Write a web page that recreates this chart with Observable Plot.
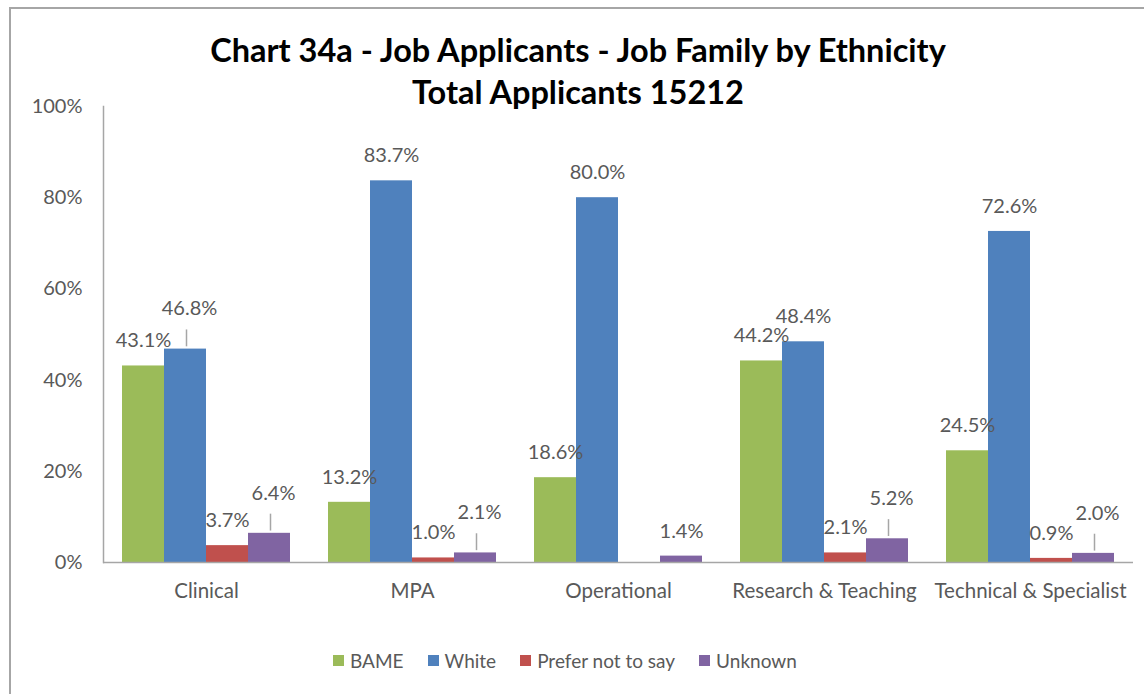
<!DOCTYPE html>
<html>
<head>
<meta charset="utf-8">
<script src="https://cdn.jsdelivr.net/npm/d3@7"></script>
<script src="https://cdn.jsdelivr.net/npm/@observablehq/plot@0.6"></script>
<style>
  html, body { margin: 0; padding: 0; background: #fff; }
  #wrap { position: relative; width: 1144px; height: 694px; overflow: hidden; font-family: Lato, "Open Sans", sans-serif; }
  #border { position: absolute; left: 9px; top: 7px; width: 1300px; height: 900px; border: 2px solid #a6a6a6; box-sizing: border-box; }
  #title { position: absolute; left: 0; top: 29px; width: 1156px; text-align: center; font-weight: bold; font-size: 32.5px; line-height: 42px; color: #000; }
  #chart { position: absolute; left: 0; top: 80px; }
  #legend { position: absolute; left: 333px; top: 649px; display: flex; align-items: center; font-size: 19px; color: #595959; }
  .item { display: flex; align-items: center; margin-right: 24px; }
  .sw { width: 11px; height: 11px; margin-right: 6px; }
</style>
</head>
<body>
<div id="wrap">
  <div id="border"></div>
  <div id="title">Chart 34a - Job Applicants - Job Family by Ethnicity<br>Total Applicants 15212</div>
  <div id="chart"></div>
  <div id="legend"></div>
</div>
<script>
const categories = ["Clinical", "MPA", "Operational", "Research & Teaching", "Technical & Specialist"];
const series = ["BAME", "White", "Prefer not to say", "Unknown"];
const bame = [43.1, 13.2, 18.6, 44.2, 24.5];
const white = [46.8, 83.7, 80.0, 48.4, 72.6];
const preferNot = [3.7, 1.0, null, 2.1, 0.9];
const unknown = [6.4, 2.1, 1.4, 5.2, 2.0];
const seriesColors = ["#9BBB59", "#4F81BD", "#C0504D", "#8064A2"];
const yTicks = [0, 20, 40, 60, 80, 100];

const valuesBySeries = [bame, white, preferNot, unknown];
const data = [];
categories.forEach((cat, i) => {
  let prev = null;
  series.forEach((s, j) => {
    const v = valuesBySeries[j][i];
    if (v != null) {
      // labels that would collide with the neighbour's label are lifted (Excel-style leader line)
      const lifted = prev != null && Math.abs(v - prev) < 4;
      data.push({cat, series: s, value: v, lifted});
      prev = v;
    }
  });
});
const normal = data.filter(d => !d.lifted);
const lifted = data.filter(d => d.lifted);

const chart = Plot.plot({
  width: 1144,
  height: 540,
  marginLeft: 103,
  marginRight: 11,
  marginTop: 26,
  marginBottom: 58,
  style: {fontFamily: "Lato, 'Open Sans', sans-serif", fontSize: "20px", color: "#595959", background: "transparent"},
  fx: {domain: categories, padding: 0, label: null},
  x: {domain: series, paddingInner: 0, paddingOuter: 0.4235, axis: null},
  y: {domain: [0, 100], label: null, axis: null},
  color: {domain: series, range: seriesColors},
  marks: [
    Plot.axisY({ticks: yTicks, tickSize: 0, tickPadding: 21, tickFormat: d => d + "%", fill: "#595959", fontSize: 20, label: null}),
    Plot.axisFx({anchor: "bottom", tickSize: 0, tickPadding: 21, fill: "#595959", fontSize: 20.5, label: null}),
    Plot.barY(data, {fx: "cat", x: "series", y: "value", fill: "series"}),
    Plot.text(normal, {fx: "cat", x: "series", y: "value", text: d => d.value.toFixed(1) + "%", dy: -25, fill: "#595959", fontSize: 20}),
    Plot.ruleX(lifted, {fx: "cat", x: "series", y1: d => d.value + 0.5, y2: d => d.value + 4.2, stroke: "#a6a6a6", strokeWidth: 1.5, dx: 1}),
    Plot.text(lifted, {fx: "cat", x: "series", y: "value", text: d => d.value.toFixed(1) + "%", dy: -40, dx: 4, fill: "#595959", fontSize: 20}),
    Plot.ruleY([0], {stroke: "#a6a6a6", strokeWidth: 1.5}),
    Plot.frame({anchor: "left", stroke: "#a6a6a6", strokeWidth: 1.5, facet: "super"})
  ]
});
document.getElementById("chart").appendChild(chart);

const legend = document.getElementById("legend");
series.forEach((s, j) => {
  const item = document.createElement("div");
  item.className = "item";
  const sw = document.createElement("div");
  sw.className = "sw";
  sw.style.background = seriesColors[j];
  const t = document.createElement("span");
  t.textContent = s;
  item.appendChild(sw);
  item.appendChild(t);
  legend.appendChild(item);
});
</script>
</body>
</html>
